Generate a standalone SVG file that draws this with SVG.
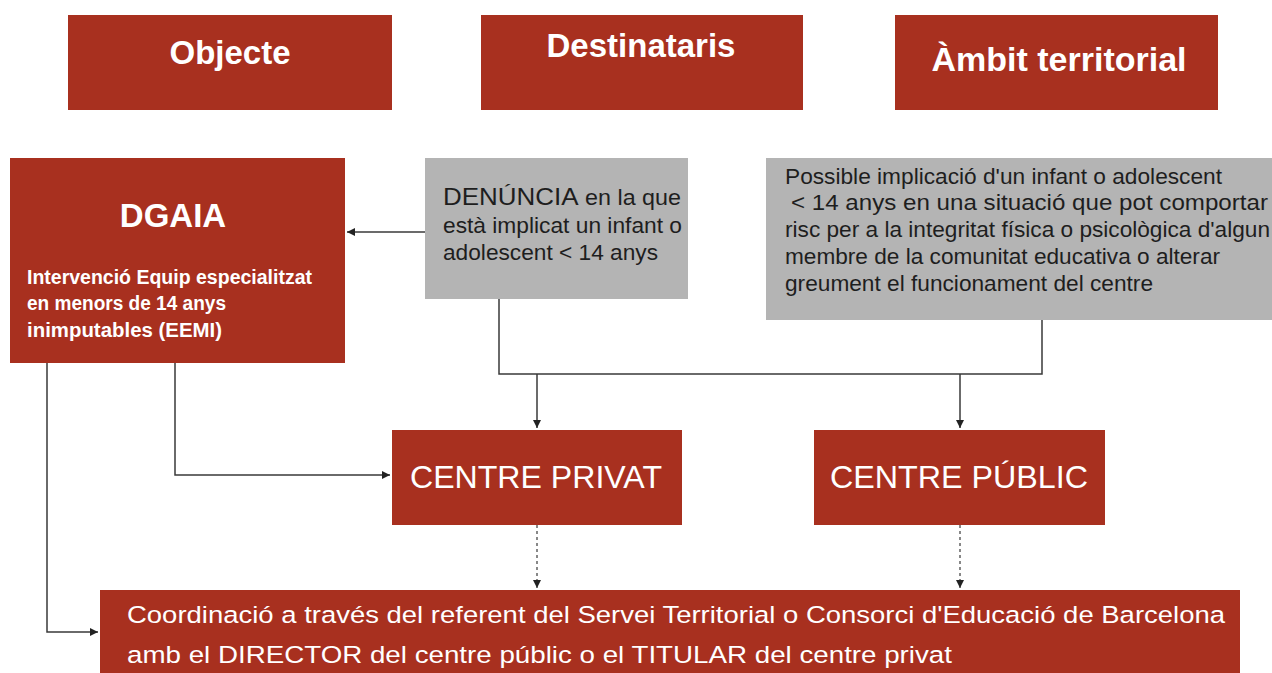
<svg xmlns="http://www.w3.org/2000/svg" width="1272" height="673" viewBox="0 0 1272 673">
<defs>
<style>
.red{fill:#a8301f}
.gray{fill:#b4b4b4}
.wt{fill:#ffffff;font-family:"Liberation Sans",Arial,sans-serif}
.dk{fill:#1e1e1e;font-family:"Liberation Sans",Arial,sans-serif}
.b{font-weight:bold}
.ln{fill:none;stroke:#3a3a3a;stroke-width:1.5}
.dash{stroke-dasharray:3 3;stroke-width:1.2}
</style>
<marker id="ah" viewBox="0 0 10 10" refX="10" refY="5" markerWidth="8" markerHeight="8" markerUnits="userSpaceOnUse" orient="auto">
<path d="M0,0 L10,5 L0,10 z" fill="#222"/>
</marker>
</defs>
<rect width="1272" height="673" fill="#ffffff"/>
<g id="objecte">
<rect class="red" x="68" y="15" width="324" height="95"/>
<text class="wt b" x="230" y="64" font-size="33" text-anchor="middle">Objecte</text>
</g>
<g id="destinataris">
<rect class="red" x="481" y="15" width="322" height="95"/>
<text class="wt b" x="641" y="57" font-size="33" text-anchor="middle">Destinataris</text>
</g>
<g id="ambit">
<rect class="red" x="895" y="15" width="323" height="95"/>
<text class="wt b" x="1059" y="71" font-size="34" text-anchor="middle">Àmbit territorial</text>
</g>
<g id="dgaia">
<rect class="red" x="10" y="158" width="335" height="205"/>
<text class="wt b" x="173" y="227" font-size="33" text-anchor="middle">DGAIA</text>
<text class="wt b" font-size="19.5" x="27" y="284" textLength="285" lengthAdjust="spacingAndGlyphs">Intervenció Equip especialitzat</text>
<text class="wt b" font-size="19.5" x="27" y="310" textLength="199" lengthAdjust="spacingAndGlyphs">en menors de 14 anys</text>
<text class="wt b" font-size="19.5" x="27" y="337" textLength="195" lengthAdjust="spacingAndGlyphs">inimputables (EEMI)</text>
</g>
<g id="denuncia">
<rect class="gray" x="425" y="158" width="263" height="141"/>
<text class="dk" x="443" y="205" font-size="22" textLength="238" lengthAdjust="spacingAndGlyphs"><tspan font-size="24.5">DENÚNCIA</tspan> en la que</text>
<text class="dk" x="443" y="233" font-size="22" textLength="239" lengthAdjust="spacingAndGlyphs">està implicat un infant o</text>
<text class="dk" x="443" y="260" font-size="22" textLength="215" lengthAdjust="spacingAndGlyphs">adolescent &lt; 14 anys</text>
</g>
<g id="possible">
<rect class="gray" x="766" y="158" width="506" height="162"/>
<text class="dk" x="785" y="184" font-size="22" textLength="437" lengthAdjust="spacingAndGlyphs">Possible implicació d'un infant o adolescent</text>
<text class="dk" x="791" y="210" font-size="22" textLength="477" lengthAdjust="spacingAndGlyphs">&lt; 14 anys en una situació que pot comportar</text>
<text class="dk" x="785" y="237" font-size="22" textLength="485" lengthAdjust="spacingAndGlyphs">risc per a la integritat física o psicològica d'algun</text>
<text class="dk" x="785" y="264" font-size="22" textLength="435" lengthAdjust="spacingAndGlyphs">membre de la comunitat educativa o alterar</text>
<text class="dk" x="785" y="291" font-size="22" textLength="368" lengthAdjust="spacingAndGlyphs">greument el funcionament del centre</text>
</g>
<g id="privat">
<rect class="red" x="392" y="430" width="290" height="95"/>
<text class="wt" x="410" y="488" font-size="32" textLength="252" lengthAdjust="spacingAndGlyphs">CENTRE PRIVAT</text>
</g>
<g id="public">
<rect class="red" x="814" y="430" width="291" height="95"/>
<text class="wt" x="830" y="488" font-size="32" textLength="258" lengthAdjust="spacingAndGlyphs">CENTRE PÚBLIC</text>
</g>
<g id="coordinacio">
<rect class="red" x="100" y="590" width="1140" height="83"/>
<text class="wt" x="127" y="623" font-size="24.5" textLength="1098" lengthAdjust="spacingAndGlyphs">Coordinació a través del referent del Servei Territorial o Consorci d'Educació de Barcelona</text>
<text class="wt" x="127" y="663" font-size="24.5" textLength="825" lengthAdjust="spacingAndGlyphs">amb el DIRECTOR del centre públic o el TITULAR  del centre privat</text>
</g>
<g id="connectors">
<line class="ln" x1="425" y1="232" x2="347" y2="232" marker-end="url(#ah)"/>
<polyline class="ln" points="499,299 499,374 1042,374 1042,320"/>
<line class="ln" x1="537" y1="374" x2="537" y2="428" marker-end="url(#ah)"/>
<line class="ln" x1="960" y1="374" x2="960" y2="428" marker-end="url(#ah)"/>
<polyline class="ln" points="175,363 175,475 390,475" marker-end="url(#ah)"/>
<polyline class="ln" points="47,363 47,632 98,632" marker-end="url(#ah)"/>
<line class="ln dash" x1="537" y1="525" x2="537" y2="588" marker-end="url(#ah)"/>
<line class="ln dash" x1="960" y1="525" x2="960" y2="588" marker-end="url(#ah)"/>
</g>
</svg>
